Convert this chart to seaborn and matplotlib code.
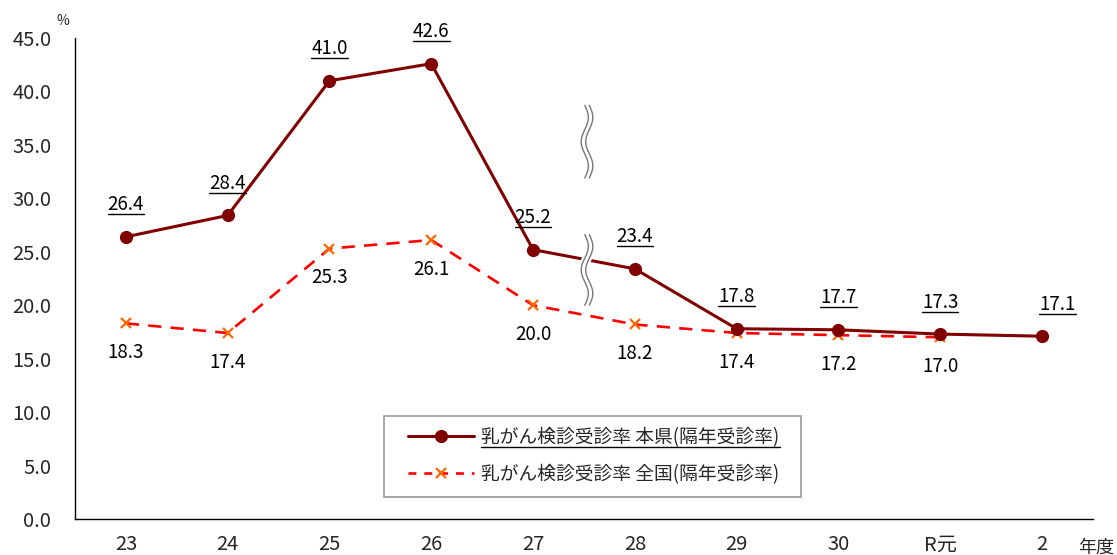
import numpy as np
import pandas as pd
import seaborn as sns
import matplotlib.pyplot as plt
from matplotlib.lines import Line2D
from matplotlib.patches import Rectangle
from matplotlib.transforms import IdentityTransform

# data
years = ['23', '24', '25', '26', '27', '28', '29', '30', 'R元', '2']
pref_rate = [26.4, 28.4, 41.0, 42.6, 25.2, 23.4, 17.8, 17.7, 17.3, 17.1]
nat_rate = [18.3, 17.4, 25.3, 26.1, 20.0, 18.2, 17.4, 17.2, 17.0, np.nan]
pref_name = '乳がん検診受診率 本県(隔年受診率)'
nat_name = '乳がん検診受診率 全国(隔年受診率)'

sns.set_theme(style='white')
plt.rcParams['font.family'] = ['Noto Sans CJK JP', 'DejaVu Sans']

fig = plt.figure(figsize=(11.17, 5.55), dpi=100)
ax = fig.add_axes([0.0671, 0.0649, 0.9114, 0.8666])

df = pd.DataFrame({'pos': range(len(years)), 'pref': pref_rate, 'nat': nat_rate})

sns.lineplot(data=df, x='pos', y='nat', ax=ax, color='#FF0000', lw=1.9,
             linestyle=(0, (5, 3.5)), marker='x', markersize=7,
             markeredgecolor='#FF6600', markeredgewidth=1.6, legend=False, zorder=3)
sns.lineplot(data=df, x='pos', y='pref', ax=ax, color='#800000', lw=2.2,
             marker='o', markersize=9.5, markeredgewidth=0, legend=False, zorder=4)

# break marks between 27 and 28
def wave(y0, y1, xc=4.53):
    t = np.linspace(0, 1, 80)
    yy = y0 + (y1 - y0) * t
    xx = xc + 0.035 * np.sin(2 * np.pi * 1.5 * t)
    ax.plot(xx, yy, color='white', lw=7, zorder=5, solid_capstyle='butt')
    ax.plot(xx - 0.022, yy, color='#777777', lw=1.0, zorder=6)
    ax.plot(xx + 0.022, yy, color='#777777', lw=1.0, zorder=6)

wave(38.7, 31.9)
wave(26.6, 20.0)

# value labels
pref_labels = []
for i, v in enumerate(pref_rate):
    dx = 11 if i == len(pref_rate) - 1 else 0
    t = ax.annotate(f'{v:.1f}', (i, v), xytext=(dx, 23), textcoords='offset points',
                    ha='center', va='center', fontsize=13.5, color='black', zorder=7)
    pref_labels.append(t)
for i, v in enumerate(nat_rate):
    if np.isnan(v):
        continue
    ax.annotate(f'{v:.1f}', (i, v), xytext=(0, -21), textcoords='offset points',
                ha='center', va='center', fontsize=13.5, color='black', zorder=7)

ax.set_xlim(-0.5, len(years) - 0.5)
ax.set_ylim(0, 45)
ax.set_yticks(np.arange(0, 45.1, 5))
ax.set_yticklabels([f'{v:.1f}' for v in np.arange(0, 45.1, 5)], fontsize=14.5)
ax.set_xticks(range(len(years)))
ax.set_xticklabels(years, fontsize=14.5)
ax.set_xticks(np.arange(0.5, len(years) - 0.4, 1), minor=True)
ax.tick_params(axis='x', which='major', length=0, pad=11)
ax.tick_params(axis='x', which='minor', direction='in', length=5, width=1, color='black')
ax.tick_params(axis='y', direction='in', length=5, width=1, color='black', pad=17)
ax.set_xlabel('')
ax.set_ylabel('')
sns.despine(ax=ax)
for s in ['left', 'bottom']:
    ax.spines[s].set_color('black')
    ax.spines[s].set_linewidth(1)
ax.grid(False)

fig.text(0.056, 0.962, '%', fontsize=10, ha='center', va='center')
fig.text(0.981, 0.014, '年度', fontsize=13, ha='center', va='center')

handles = [
    Line2D([], [], color='#800000', lw=2.2, marker='o', markersize=9.5, markeredgewidth=0),
    Line2D([], [], color='#FF0000', lw=1.9, linestyle=(0, (3, 3)), marker='x',
           markersize=7, markeredgecolor='#FF6600', markeredgewidth=1.6),
]
leg = ax.legend(handles, [pref_name, nat_name], loc='lower left',
                bbox_to_anchor=(0.3145, 0.0437), fontsize=13.5, frameon=False,
                handlelength=3.5, handletextpad=0.4, labelspacing=0.85,
                borderpad=0.7, borderaxespad=0)
leg.set_zorder(11)

# underline the prefecture labels, box around the legend
fig.canvas.draw()
renderer = fig.canvas.get_renderer()
for t in pref_labels + [leg.get_texts()[0]]:
    bb = t.get_window_extent(renderer)
    y = bb.y0 + 1
    fig.add_artist(Line2D([bb.x0, bb.x1], [y, y], color='black', lw=1.0,
                          transform=IdentityTransform(), zorder=10))
lb = leg.get_window_extent(renderer)
box = Rectangle((lb.x0 - 11, lb.y0 + 1), lb.width + 19, lb.height - 3,
                fill=True, facecolor='white', edgecolor='#999999', lw=1.2,
                transform=IdentityTransform(), zorder=10)
ax.add_artist(box)

fig.savefig('out.png', dpi=100)
